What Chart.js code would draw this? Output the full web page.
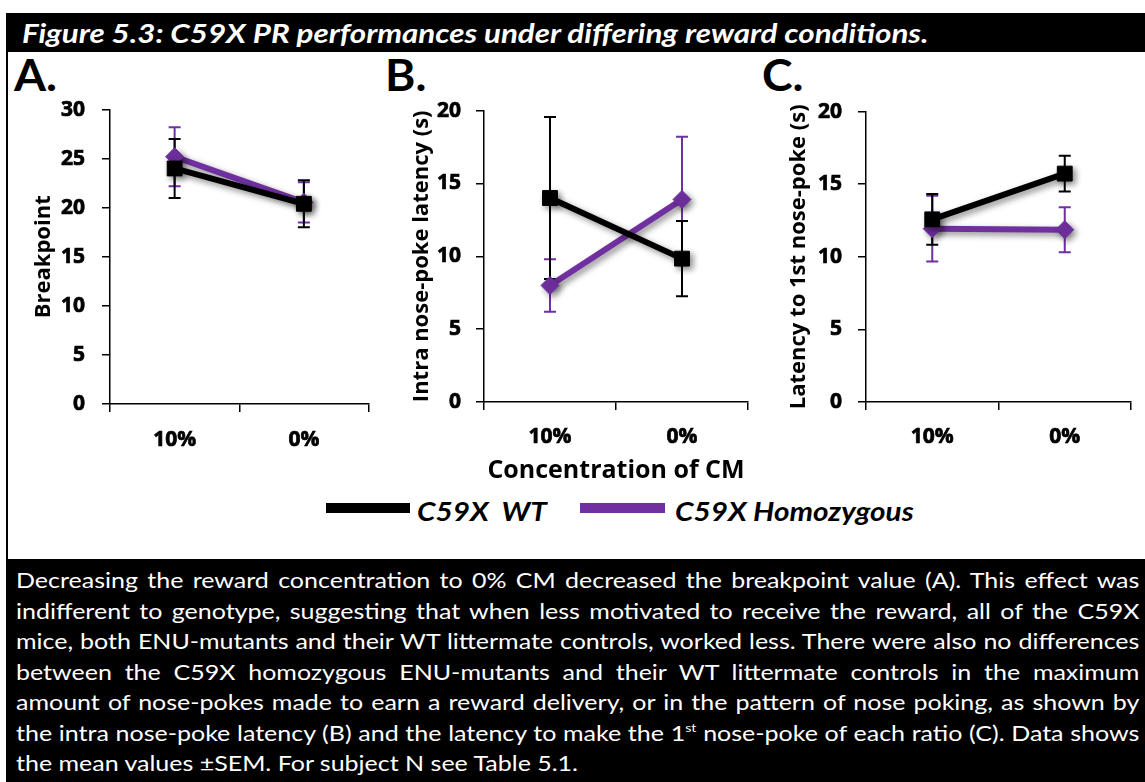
<!DOCTYPE html>
<html>
<head>
<meta charset="utf-8">
<script src="https://cdn.jsdelivr.net/npm/chart.js@4.4.1/dist/chart.umd.min.js"></script>
<style>
  html, body { margin:0; padding:0; background:#fff; }
  body { width:1145px; height:782px; position:relative; overflow:hidden; font-family: Lato, "Noto Sans", sans-serif; }
  .abs { position:absolute; }
  #header { left:6px; top:13px; width:1139px; height:39px; background:#000; }
  #title { left:22px; top:13px; height:39px; line-height:39px; color:#fff; font-weight:bold; font-style:italic; font-size:27px; white-space:nowrap; transform:scaleX(1.16); transform-origin:left center; }
  #leftBorder { left:6px; top:52px; width:2px; height:507px; background:#000; }
  .panelLetter { font-weight:bold; font-size:44px; top:52px; line-height:44px; color:#000; transform:scaleX(1.05); transform-origin:left center; }
  #caption { left:6px; top:559px; width:1139px; height:223px; background:#000; }
  #capText { left:16px; top:565px; width:944px; color:#fff; font-size:21px; line-height:30.5px; transform:scaleX(1.19); transform-origin:left top; }
  #capText div { text-align:justify; text-align-last:justify; white-space:nowrap; }
  #capText div.last { text-align-last:left; }
  #capText sup { font-size:12px; line-height:0; vertical-align:9px; }
  .legLine { height:10px; }
  .legText { font-weight:bold; font-style:italic; font-size:27px; line-height:30px; top:496px; white-space:pre; color:#000; transform:scaleX(1.1); transform-origin:left center; }
  canvas { position:absolute; }
</style>
</head>
<body>
<div id="header" class="abs"></div>
<div id="title" class="abs">Figure 5.3: C59X PR performances under differing reward conditions.</div>
<div id="leftBorder" class="abs"></div>
<div class="abs panelLetter" style="left:14px;">A.</div>
<div class="abs panelLetter" style="left:385px;">B.</div>
<div class="abs panelLetter" style="left:762px;">C.</div>

<canvas id="cA" width="370" height="374" style="left:10px; top:80px;"></canvas>
<canvas id="cB" width="370" height="409" style="left:390px; top:83px;"></canvas>
<canvas id="cC" width="374" height="369" style="left:770px; top:83px;"></canvas>

<div class="abs legLine" style="left:326px; top:503px; width:84px; background:#000;"></div>
<div class="abs legText" id="legWT" style="left:417px;">C59X  WT</div>
<div class="abs legLine" style="left:580px; top:503px; width:85px; background:#7030A0;"></div>
<div class="abs legText" id="legHom" style="left:675px;">C59X Homozygous</div>

<div id="caption" class="abs"></div>
<div id="capText" class="abs">
<div>Decreasing the reward concentration to 0% CM decreased the breakpoint value (A). This effect was</div>
<div>indifferent to genotype, suggesting that when less motivated to receive the reward, all of the C59X</div>
<div>mice, both ENU-mutants and their WT littermate controls, worked less. There were also no differences</div>
<div>between the C59X homozygous ENU-mutants and their WT littermate controls in the maximum</div>
<div>amount of nose-pokes made to earn a reward delivery, or in the pattern of nose poking, as shown by</div>
<div>the intra nose-poke latency (B) and the latency to make the 1<sup>st</sup> nose-poke of each ratio (C). Data shows</div>
<div class="last">the mean values ±SEM. For subject N see Table 5.1.</div>
</div>

<script>
// ---- Data ----
const categories = ['10%', '0%'];
const seriesNames = ['C59X  WT', 'C59X Homozygous'];

// A: Breakpoint
const breakpointWT = [24.0, 20.4];
const breakpointWTErr = [3.0, 2.4];
const breakpointHom = [25.2, 20.55];
const breakpointHomErr = [3.0, 2.05];

// B: Intra nose-poke latency (s)
const intraWT = [14.0, 9.84];
const intraWTErr = [5.56, 2.58];
const intraHom = [8.0, 13.9];
const intraHomErr = [1.8, 4.3];

// C: Latency to 1st nose-poke (s)
const firstWT = [12.58, 15.73];
const firstWTErr = [1.75, 1.23];
const firstHom = [11.94, 11.87];
const firstHomErr = [2.26, 1.55];

const COL_WT = '#000000';
const COL_HOM = '#7030A0';

const errorBarPlugin = {
  id: 'errorBars',
  beforeDatasetsDraw(chart) {
    const ctx = chart.ctx;
    const ys = chart.scales.y;
    for (let i = chart.data.datasets.length - 1; i >= 0; i--) {
      const ds = chart.data.datasets[i];
      const meta = chart.getDatasetMeta(i);
      ctx.save();
      ctx.strokeStyle = ds.borderColor;
      ctx.lineWidth = 2;
      ds.errors.forEach((e, j) => {
        const x = meta.data[j].x;
        const v = ds.data[j];
        const yt = ys.getPixelForValue(v + e);
        const yb = ys.getPixelForValue(v - e);
        ctx.beginPath();
        ctx.moveTo(x, yt); ctx.lineTo(x, yb);
        ctx.moveTo(x - 6, yt); ctx.lineTo(x + 6, yt);
        ctx.moveTo(x - 6, yb); ctx.lineTo(x + 6, yb);
        ctx.stroke();
      });
      ctx.restore();
    }
    ctx.save();
    ctx.shadowColor = 'rgba(0,0,0,0.45)';
    ctx.shadowBlur = 6;
    ctx.shadowOffsetX = 3;
    ctx.shadowOffsetY = 3;
  },
  afterDatasetsDraw(chart) {
    chart.ctx.restore();
  }
};

function makeChart(id, geo, wt, wtErr, hom, homErr, yMax, yTitle, xTitle) {
  const tickFont = { family: 'Open Sans', weight: 'bold', size: 21 };
  const cfg = {
    type: 'line',
    data: {
      labels: categories,
      datasets: [
        {
          label: seriesNames[0], data: wt, errors: wtErr,
          borderColor: COL_WT, backgroundColor: COL_WT, borderWidth: 6,
          pointStyle: 'rect', pointRadius: 10.5, pointBorderWidth: 1,
          pointBackgroundColor: COL_WT, pointBorderColor: COL_WT
        },
        {
          label: seriesNames[1], data: hom, errors: homErr,
          borderColor: COL_HOM, backgroundColor: COL_HOM, borderWidth: 6,
          pointStyle: 'rectRot', pointRadius: 9, pointBorderWidth: 1,
          pointBackgroundColor: COL_HOM, pointBorderColor: COL_HOM
        }
      ]
    },
    options: {
      responsive: false,
      animation: false,
      devicePixelRatio: 1,
      layout: { padding: { top: 0, right: geo.padRight, left: 0, bottom: 0 } },
      plugins: { legend: { display: false }, tooltip: { enabled: false } },
      scales: {
        x: {
          type: 'category',
          offset: true,
          grid: { offset: true, drawOnChartArea: false, display: true, color: '#000', lineWidth: 1.5, tickLength: 8 },
          border: { display: true, color: '#000', width: 1.5 },
          ticks: { color: '#000', font: tickFont, padding: geo.xPad, maxRotation: 0, textStrokeColor: '#000', textStrokeWidth: 0.7 },
          title: xTitle ? { display: true, text: xTitle, color: '#000', font: { family: 'Open Sans', weight: 'bold', size: 25 }, padding: { top: 0, bottom: geo.xTitlePad } } : { display: false },
          afterFit: (s) => { s.height = geo.xH; }
        },
        y: {
          min: 0, max: yMax,
          grid: { drawOnChartArea: false, color: '#000', lineWidth: 1.5, tickLength: 8 },
          border: { display: true, color: '#000', width: 1.5 },
          ticks: { stepSize: 5, color: '#000', font: tickFont, padding: geo.yPad, textStrokeColor: '#000', textStrokeWidth: 0.7 },
          title: { display: true, text: yTitle, color: '#000', font: { family: 'Open Sans', weight: 'bold', size: 22 }, padding: { top: geo.yTitlePad, bottom: 0 } },
          afterFit: (s) => { s.width = geo.yW; }
        }
      }
    },
    plugins: [errorBarPlugin]
  };
  return new Chart(document.getElementById(id), cfg);
}

function build() {
  makeChart('cA', { padRight: 11, xH: 50, yW: 100, xPad: 15, yPad: 17, yTitlePad: 21 },
    breakpointWT, breakpointWTErr, breakpointHom, breakpointHomErr, 30, 'Breakpoint', null);
  makeChart('cB', { padRight: 12, xH: 90, yW: 94, xPad: 14, yPad: 15, yTitlePad: 19, xTitlePad: 6 },
    intraWT, intraWTErr, intraHom, intraHomErr, 20, 'Intra nose-poke latency (s)', 'Concentration of CM');
  makeChart('cC', { padRight: 13, xH: 50, yW: 96, xPad: 14, yPad: 16, yTitlePad: 16 },
    firstWT, firstWTErr, firstHom, firstHomErr, 20, 'Latency to 1st nose-poke (s)', null);
}

Promise.all([
  document.fonts.load('bold 21px "Open Sans"'),
  document.fonts.load('bold 25px "Open Sans"')
]).then(build, build);
</script>
</body>
</html>
